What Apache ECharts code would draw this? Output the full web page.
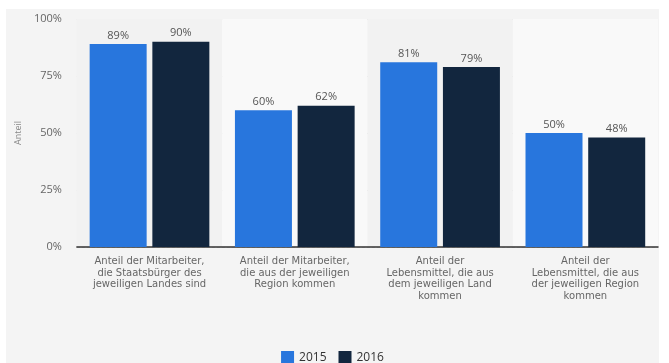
<!DOCTYPE html>
<html>
<head>
<meta charset="utf-8">
<script src="https://cdn.jsdelivr.net/npm/echarts@6/dist/echarts.min.js"></script>
<style>
html,body{margin:0;padding:0;background:#fff;width:669px;height:363px;overflow:hidden;}
#c{position:absolute;left:6px;top:9px;width:653px;height:354px;background:#f4f4f4;}
</style>
</head>
<body>
<div id="c"></div>
<script>
const categories = [
  "Anteil der Mitarbeiter,\ndie Staatsbürger des\njeweiligen Landes sind",
  "Anteil der Mitarbeiter,\ndie aus der jeweiligen\nRegion kommen",
  "Anteil der\nLebensmittel, die aus\ndem jeweiligen Land\nkommen",
  "Anteil der\nLebensmittel, die aus\nder jeweiligen Region\nkommen"
];
const values2015 = [89, 60, 81, 50];
const values2016 = [90, 62, 79, 48];
const seriesNames = ["2015", "2016"];
const yTicks = [0, 25, 50, 75, 100];

const chart = echarts.init(document.getElementById('c'), null, {renderer: 'canvas'});
const labelStyle = {show: true, position: 'top', distance: 3, color: '#555', fontSize: 11, fontFamily: 'Open Sans', formatter: p => p.value + '%'};
chart.setOption({
  animation: false,
  backgroundColor: 'transparent',
  grid: {left: 67, right: 1, top: 10, bottom: 116},
  legend: {
    bottom: -6, left: 'center', itemWidth: 13, itemHeight: 13, itemGap: 12,
    icon: 'rect',
    textStyle: {color: '#333', fontSize: 12, fontFamily: 'Open Sans'},
    data: seriesNames
  },
  xAxis: {
    type: 'category', data: categories,
    axisLine: {show: true, lineStyle: {color: '#333', width: 1.5}},
    axisTick: {show: false},
    splitArea: {show: true, areaStyle: {color: ['#f2f2f2', '#f9f9f9']}},
    axisLabel: {interval: 0, margin: 9, color: '#666', fontSize: 10, lineHeight: 11.5, fontFamily: 'DejaVu Sans', align: 'center'}
  },
  yAxis: {
    type: 'value', min: yTicks[0], max: yTicks[yTicks.length - 1], interval: 25,
    name: 'Anteil', nameLocation: 'middle', nameRotate: 90, nameGap: 49,
    nameTextStyle: {color: '#888', fontSize: 9, fontFamily: 'Open Sans'},
    axisLine: {show: false}, axisTick: {show: false},
    axisLabel: {color: '#666', fontSize: 11, margin: 15, fontFamily: 'Open Sans', formatter: v => v + '%'},
    splitLine: {show: true, lineStyle: {color: '#d6d6d6', type: [3, 2], width: 1}}
  },
  series: [
    {name: seriesNames[0], type: 'bar', data: values2015, barWidth: 57, barGap: '10%', itemStyle: {color: '#2876dd'}, label: labelStyle},
    {name: seriesNames[1], type: 'bar', data: values2016, barWidth: 57, itemStyle: {color: '#12263e'}, label: labelStyle}
  ]
});
</script>
</body>
</html>
